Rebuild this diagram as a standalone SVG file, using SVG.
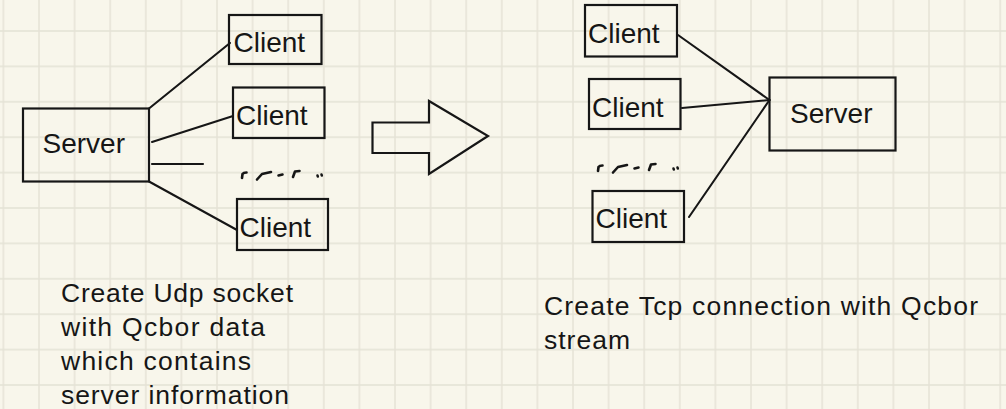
<svg xmlns="http://www.w3.org/2000/svg" width="1006" height="409" viewBox="0 0 1006 409">
  <defs>
    <pattern id="grid" patternUnits="userSpaceOnUse" x="21.2" y="13.3" width="35.6" height="35.4">
      <path d="M17.8 0 V35.4 M0 17.7 H35.6" stroke="#e4e2d5" stroke-width="1.4" fill="none"/>
    </pattern>
  </defs>
  <style>
    .box { fill: none; stroke: #161616; stroke-width: 2.2; }
    .lbl { font-family: "Liberation Sans", Arial, sans-serif; font-size: 28px; fill: #161616; }
    .note { font-family: "Liberation Sans", Arial, sans-serif; font-size: 26.5px; fill: #161616; }
    .conn line { stroke: #161616; stroke-width: 2.1; stroke-linecap: round; }
    .scrib path { fill: none; stroke: #161616; stroke-width: 2.6; stroke-linecap: round; stroke-linejoin: round; }
  </style>
  <rect width="1006" height="409" fill="#f8f6eb"/>
  <rect width="1006" height="409" fill="url(#grid)"/>

  <!-- Left diagram -->
  <g id="left-server">
    <rect class="box" x="23" y="108.5" width="126" height="73"/>
    <text class="lbl" x="42.5" y="153">Server</text>
  </g>
  <g id="left-client-1">
    <rect class="box" x="229" y="15" width="92.5" height="49"/>
    <text class="lbl" x="233.5" y="52">Client</text>
  </g>
  <g id="left-client-2">
    <rect class="box" x="233" y="87.5" width="91.5" height="50.5"/>
    <text class="lbl" x="236" y="125">Client</text>
  </g>
  <g id="left-client-3">
    <rect class="box" x="237" y="199" width="91" height="51"/>
    <text class="lbl" x="239.5" y="237">Client</text>
  </g>
  <g id="left-ellipsis" class="scrib">
    <path d="M242 178 L242.5 174 Q243.5 172.5 246.5 172.5"/>
    <path d="M257 179.5 L262 174 L271 172"/>
    <path d="M278.5 175.5 L282.5 174.5"/>
    <path d="M293 177 L295 171.5 L299.5 171"/>
    <path d="M317.5 175.5 L317.8 176.5 M321.5 174.5 L321.8 175.5"/>
  </g>

  <!-- Transition arrow -->
  <g id="transition-arrow">
    <polygon class="box" points="372.5,122.5 429,122.5 429,101 488,136 429,174 429,153 372.5,153"/>
  </g>

  <!-- Right diagram -->
  <g id="right-client-1">
    <rect class="box" x="585" y="5" width="92" height="51.5"/>
    <text class="lbl" x="588" y="43">Client</text>
  </g>
  <g id="right-client-2">
    <rect class="box" x="589" y="79" width="91.5" height="50"/>
    <text class="lbl" x="592" y="117">Client</text>
  </g>
  <g id="right-client-3">
    <rect class="box" x="592.5" y="191" width="91.5" height="51"/>
    <text class="lbl" x="595.5" y="228">Client</text>
  </g>
  <g id="right-server">
    <rect class="box" x="769.5" y="77.5" width="126" height="73"/>
    <text class="lbl" x="790" y="122.5">Server</text>
  </g>
  <g id="right-ellipsis" class="scrib" transform="translate(356,-7)">
    <path d="M242 178 L242.5 174 Q243.5 172.5 246.5 172.5"/>
    <path d="M257 179.5 L262 174 L271 172"/>
    <path d="M278.5 175.5 L282.5 174.5"/>
    <path d="M293 177 L295 171.5 L299.5 171"/>
    <path d="M317.5 175.5 L317.8 176.5 M321.5 174.5 L321.8 175.5"/>
  </g>

  <!-- Connectors -->
  <g id="connectors" class="conn">
    <line x1="149" y1="108.5" x2="230" y2="43"/>
    <line x1="152" y1="142" x2="233" y2="116"/>
    <line x1="152" y1="164" x2="203" y2="164"/>
    <line x1="149" y1="181.5" x2="237" y2="230"/>
    <line x1="678" y1="35" x2="769.5" y2="100"/>
    <line x1="682" y1="108" x2="769.5" y2="100"/>
    <line x1="689" y1="217" x2="769.5" y2="100"/>
  </g>

  <!-- Captions -->
  <g id="caption-left">
    <text class="note" x="61" y="301.5" textLength="232" lengthAdjust="spacing">Create Udp socket</text>
    <text class="note" x="61" y="335.5" textLength="204" lengthAdjust="spacing">with Qcbor data</text>
    <text class="note" x="61" y="369.5" textLength="190" lengthAdjust="spacing">which contains</text>
    <text class="note" x="61" y="403.5" textLength="228" lengthAdjust="spacing">server information</text>
  </g>
  <g id="caption-right">
    <text class="note" x="544" y="315" textLength="434" lengthAdjust="spacing">Create Tcp connection with Qcbor</text>
    <text class="note" x="544" y="349" textLength="86" lengthAdjust="spacing">stream</text>
  </g>
</svg>
